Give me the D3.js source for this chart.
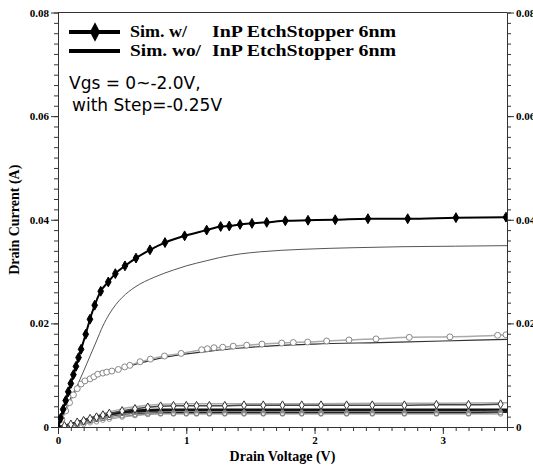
<!DOCTYPE html>
<html>
<head>
<meta charset="utf-8">
<script src="https://cdn.jsdelivr.net/npm/d3@7"></script>
<style>
  body { margin: 0; background: #fff; }
  svg { display: block; }
  .tick-label { font-family: "Liberation Serif", serif; font-weight: bold; font-size: 11px; }
  .title { font-family: "Liberation Serif", serif; font-weight: bold; font-size: 14px; }
  .legend { font-family: "Liberation Serif", serif; font-weight: bold; font-size: 17.5px; }
  .note { font-family: "DejaVu Sans", sans-serif; font-size: 17px; }
</style>
</head>
<body>
<script>
// axis ticks
var xTicks = [0, 1, 2, 3];
var yTicks = [0, 0.02, 0.04, 0.06, 0.08];
var yTickLabels = ["0", "0.02", "0.04", "0.06", "0.08"];

// Sim. w/ InP EtchStopper, Vgs = 0 (filled diamonds)
var wVgs0V = [0, 0.02, 0.04, 0.06, 0.08, 0.10, 0.12, 0.14, 0.16, 0.18, 0.216, 0.249, 0.286, 0.333, 0.392, 0.447, 0.522, 0.608, 0.717, 0.834, 0.987, 1.159, 1.268, 1.335, 1.419, 1.512, 1.627, 1.772, 1.949, 2.161, 2.416, 2.726, 3.102, 3.492];
var wVgs0I = [0, 0.0017, 0.0034, 0.0051, 0.0068, 0.0084, 0.0101, 0.0117, 0.0134, 0.0150, 0.0179, 0.0208, 0.0235, 0.0262, 0.0280, 0.0296, 0.0311, 0.0326, 0.0342, 0.0356, 0.0369, 0.0380, 0.0387, 0.0388, 0.0391, 0.0393, 0.0395, 0.0398, 0.0399, 0.0400, 0.0402, 0.0402, 0.0404, 0.0405];

// Sim. w/, Vgs = -0.25 (open circles)
var wVgs1V = [0, 0.03, 0.06, 0.09, 0.12, 0.15, 0.18, 0.21, 0.25, 0.28, 0.31, 0.35, 0.38, 0.42, 0.47, 0.52, 0.56, 0.64, 0.72, 0.83, 0.96, 1.12, 1.164, 1.216, 1.284, 1.366, 1.471, 1.59, 1.744, 1.834, 1.946, 2.094, 2.268, 2.479, 2.738, 3.055, 3.427, 3.492];
var wVgs1I = [0, 0.0015, 0.0031, 0.0047, 0.0062, 0.0074, 0.0083, 0.0089, 0.0093, 0.0097, 0.0102, 0.0104, 0.0106, 0.0108, 0.0111, 0.0116, 0.0119, 0.0126, 0.0131, 0.0137, 0.0142, 0.0149, 0.0151, 0.0153, 0.0154, 0.0156, 0.0158, 0.0160, 0.0162, 0.0163, 0.0164, 0.0166, 0.0168, 0.0170, 0.0173, 0.0174, 0.0177, 0.0178];

// Sim. w/, low-current curves (open diamonds, triangles, squares, circles)
var wLowV = [0, 0.05, 0.1, 0.15, 0.2, 0.25, 0.3, 0.35, 0.4, 0.5, 0.6, 0.7, 0.8, 0.9, 1.0, 1.08, 1.18, 1.3, 1.45, 1.6, 1.75, 1.9, 2.05, 2.25, 2.45, 2.7, 2.95, 3.2, 3.45];
var wVgs2I = [0, 0.0002, 0.0005, 0.0009, 0.0012, 0.0016, 0.0019, 0.0023, 0.0026, 0.0031, 0.0035, 0.0038, 0.0040, 0.0041, 0.0041, 0.0041, 0.0041, 0.0041, 0.0042, 0.0042, 0.0042, 0.0042, 0.0042, 0.0042, 0.0042, 0.0042, 0.0043, 0.0043, 0.0044];
var wVgs3I = [0, 0.0002, 0.0004, 0.0007, 0.0010, 0.0013, 0.0016, 0.0019, 0.0021, 0.0025, 0.0027, 0.0028, 0.0029, 0.0030, 0.0030, 0.0030, 0.0030, 0.0030, 0.0030, 0.0030, 0.0030, 0.0030, 0.0030, 0.0030, 0.0030, 0.0030, 0.0030, 0.0030, 0.0031];
var wVgs4I = [0, 0.0001, 0.0003, 0.0005, 0.0008, 0.0011, 0.0014, 0.0016, 0.0018, 0.0021, 0.0023, 0.0025, 0.0026, 0.0026, 0.0026, 0.0026, 0.0026, 0.0026, 0.0026, 0.0026, 0.0026, 0.0026, 0.0026, 0.0026, 0.0026, 0.0026, 0.0026, 0.0026, 0.0027];
var wVgs5I = [0, 0.0001, 0.0002, 0.0003, 0.0005, 0.0008, 0.0010, 0.0013, 0.0015, 0.0019, 0.0022, 0.0024, 0.0025, 0.0025, 0.0025, 0.0025, 0.0025, 0.0025, 0.0025, 0.0025, 0.0025, 0.0025, 0.0025, 0.0025, 0.0025, 0.0025, 0.0025, 0.0025, 0.0025];

// Sim. wo/ InP EtchStopper (plain lines)
var woVgs0V = [0, 0.05, 0.1, 0.15, 0.2, 0.25, 0.3, 0.35, 0.4, 0.45, 0.5, 0.6, 0.75, 0.9, 1.0, 1.16, 1.26, 1.42, 1.57, 1.91, 2.3, 2.69, 3.1, 3.5];
var woVgs0I = [0, 0.0025, 0.0052, 0.0080, 0.0108, 0.0137, 0.0166, 0.0195, 0.0218, 0.0236, 0.0250, 0.0270, 0.0289, 0.0303, 0.0311, 0.0321, 0.0327, 0.0334, 0.0338, 0.0343, 0.0346, 0.0348, 0.0349, 0.0350];
var woVgs1V = [0, 0.05, 0.1, 0.15, 0.2, 0.25, 0.3, 0.4, 0.5, 0.6, 0.7, 0.8, 1.0, 1.2, 1.4, 1.7, 2.0, 2.5, 3.0, 3.5];
var woVgs1I = [0, 0.0028, 0.0056, 0.0078, 0.0089, 0.0095, 0.0100, 0.0106, 0.0113, 0.0121, 0.0127, 0.0133, 0.0141, 0.0147, 0.0152, 0.0157, 0.0160, 0.0163, 0.0166, 0.0169];
var woLowV = [0, 0.1, 0.2, 0.3, 0.4, 0.5, 0.6, 0.7, 0.8, 1.0, 1.5, 2.0, 2.5, 3.0, 3.5];
var woVgs2I = [0, 0.0006, 0.0014, 0.0022, 0.0029, 0.0035, 0.0039, 0.0042, 0.0044, 0.0045, 0.0045, 0.0045, 0.0046, 0.0046, 0.0047];
var woVgs3I = [0, 0.0006, 0.0013, 0.0020, 0.0025, 0.0029, 0.0032, 0.0033, 0.0034, 0.0034, 0.0034, 0.0034, 0.0034, 0.0034, 0.0034];
var woVgs4I = [0, 0.0005, 0.0012, 0.0018, 0.0023, 0.0027, 0.0029, 0.0031, 0.0031, 0.0031, 0.0031, 0.0031, 0.0031, 0.0031, 0.0032];
var woVgs5I = [0, 0.0005, 0.0011, 0.0017, 0.0021, 0.0025, 0.0027, 0.0028, 0.0029, 0.0029, 0.0029, 0.0029, 0.0029, 0.0029, 0.0029];

// canvas size
var totalWidth = 533;
var totalHeight = 469;
var margin = {top: 12.5, right: 26, bottom: 42, left: 58};
var width = totalWidth - margin.left - margin.right;
var height = totalHeight - margin.top - margin.bottom;

var svg = d3.select("body").append("svg")
    .attr("width", totalWidth)
    .attr("height", totalHeight);

var g = svg.append("g")
    .attr("transform", "translate(" + margin.left + "," + margin.top + ")");

var xScale = d3.scaleLinear().domain([0, 3.5]).range([0, width]);
var yScale = d3.scaleLinear().domain([0, 0.08]).range([height, 0]);

g.append("clipPath").attr("id", "clip")
  .append("rect").attr("width", width).attr("height", height);

// axes: major ticks with labels, minor ticks without
var xMinor = d3.range(0, 3.501, 0.1);
var yMinor = d3.range(0, 0.0801, 0.002);

function drawAxis(axis, minorAxis, transform) {
    var a = g.append("g").attr("transform", transform).call(minorAxis);
    a.selectAll("text").remove();
    a.select(".domain").remove();
    var b = g.append("g").attr("transform", transform).call(axis);
    b.selectAll("text").attr("class", "tick-label").attr("fill", "#000");
    [a, b].forEach(function(s) { s.selectAll("line").attr("stroke", "#333"); });
    b.select(".domain").attr("stroke", "#333");
    return b;
}

drawAxis(d3.axisBottom(xScale).tickValues(xTicks).tickFormat(d3.format("d")).tickSize(7).tickSizeOuter(0).tickPadding(2),
         d3.axisBottom(xScale).tickValues(xMinor).tickSize(4).tickSizeOuter(0),
         "translate(0," + height + ")");
drawAxis(d3.axisLeft(yScale).tickValues(yTicks).tickFormat(function(d, i) { return yTickLabels[i]; }).tickSize(7).tickSizeOuter(0).tickPadding(2),
         d3.axisLeft(yScale).tickValues(yMinor).tickSize(4).tickSizeOuter(0),
         "translate(0,0)");
drawAxis(d3.axisRight(yScale).tickValues(yTicks).tickFormat(function(d, i) { return yTickLabels[i]; }).tickSize(7).tickSizeOuter(0).tickPadding(2),
         d3.axisRight(yScale).tickValues(yMinor).tickSize(4).tickSizeOuter(0),
         "translate(" + width + ",0)");

g.append("line")
    .attr("x1", 0).attr("x2", width).attr("y1", 0).attr("y2", 0)
    .attr("stroke", "#333");

// axis titles
svg.append("text").attr("class", "title")
    .attr("x", margin.left + width / 2).attr("y", 461)
    .attr("text-anchor", "middle")
    .text("Drain Voltage (V)");

svg.append("text").attr("class", "title")
    .attr("transform", "translate(19," + (margin.top + height / 2) + ") rotate(-90)")
    .attr("text-anchor", "middle")
    .text("Drain Current (A)");

// curves
var plot = g.append("g").attr("clip-path", "url(#clip)");
var line = d3.line()
    .x(function(d) { return xScale(d[0]); })
    .y(function(d) { return yScale(d[1]); })
    .curve(d3.curveMonotoneX);

function pairs(vs, is) { return vs.map(function(v, i) { return [v, is[i]]; }); }

var diamond = d3.symbol().type(d3.symbolDiamond);
var triangle = d3.symbol().type(d3.symbolTriangle);
var square = d3.symbol().type(d3.symbolSquare);
var circle = d3.symbol().type(d3.symbolCircle);

function curve(data, color, lw, marker, size, fill, stroke) {
    plot.append("path").datum(data)
        .attr("d", line).attr("fill", "none")
        .attr("stroke", color).attr("stroke-width", lw);
    if (!marker) return;
    plot.selectAll(null).data(data).enter().append("path")
        .attr("d", marker.size(size))
        .attr("transform", function(d) { return "translate(" + xScale(d[0]) + "," + yScale(d[1]) + ")"; })
        .attr("fill", fill).attr("stroke", stroke).attr("stroke-width", 1);
}

// wo/ lines
curve(pairs(woVgs0V, woVgs0I), "#555", 1, null);
curve(pairs(woVgs1V, woVgs1I), "#333", 1.2, null);
curve(pairs(woLowV, woVgs2I), "#aaa", 1.5, null);
curve(pairs(woLowV, woVgs3I), "#111", 2, null);
curve(pairs(woLowV, woVgs4I), "#111", 2, null);
curve(pairs(woLowV, woVgs5I), "#222", 2, null);

// w/ curves with markers
curve(pairs(wLowV, wVgs5I), "#999", 1, circle, 16, "#fff", "#999");
curve(pairs(wLowV, wVgs4I), "#888", 1, square, 13, "#fff", "#777");
curve(pairs(wLowV, wVgs3I), "#888", 1, triangle, 10, "#888", "#888");
curve(pairs(wLowV, wVgs2I), "#444", 1.5, diamond, 22, "#fff", "#333");
curve(pairs(wVgs1V, wVgs1I), "#aaa", 1.5, circle, 28, "#fff", "#888");
curve(pairs(wVgs0V, wVgs0I), "#000", 2, diamond, 28, "#000", "#000");

// legend
var legendRows = [
    {y: 32, label: "Sim. w/", marker: true},
    {y: 51, label: "Sim. wo/", marker: false}
];
var legend = svg.selectAll(".legend-row").data(legendRows).enter().append("g")
    .attr("class", "legend-row")
    .attr("transform", function(d) { return "translate(0," + d.y + ")"; });

legend.append("line")
    .attr("x1", 69).attr("x2", 120)
    .attr("stroke", "#000").attr("stroke-width", 4);

legend.filter(function(d) { return d.marker; }).append("path")
    .attr("d", diamond.size(90))
    .attr("transform", "translate(95,0) scale(1,1.1)")
    .attr("fill", "#000");

legend.append("text").attr("class", "legend")
    .attr("x", 130).attr("y", 5)
    .attr("textLength", function(d) { return d.marker ? 57 : 71; })
    .attr("lengthAdjust", "spacingAndGlyphs")
    .text(function(d) { return d.label; });

legend.append("text").attr("class", "legend")
    .attr("x", 212).attr("y", 5)
    .attr("textLength", 184)
    .attr("lengthAdjust", "spacingAndGlyphs")
    .text("InP EtchStopper 6nm");

svg.append("text").attr("class", "note").attr("x", 69).attr("y", 89).text("Vgs = 0~-2.0V,");
svg.append("text").attr("class", "note").attr("x", 72).attr("y", 111).text("with Step=-0.25V");
</script>
</body>
</html>
